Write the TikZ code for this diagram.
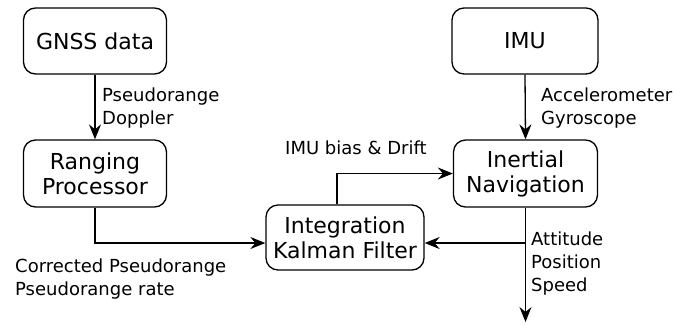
\documentclass[tikz,border=0pt]{standalone}
\usepackage{fontspec}
\setmainfont{DejaVu Sans}
\usetikzlibrary{arrows.meta,calc}
\begin{document}
\begin{tikzpicture}[x=1pt,y=-1pt,
  blk/.style={draw,line width=1.3pt,rounded corners=12pt,align=center,inner sep=0pt,
    font=\fontsize{22}{25}\selectfont},
  lbl/.style={anchor=north west,inner sep=0pt,align=left,font=\fontsize{18}{23}\selectfont},
  conn/.style={line width=1.3pt},
  arr/.style={conn,-{Stealth[length=15pt,width=12pt,inset=5pt]}}]
\useasboundingbox (0,0) rectangle (676,325);
\node[blk,minimum width=143pt,minimum height=66pt] (gnss) at (95,41) {GNSS data};
\node[blk,minimum width=143pt,minimum height=67pt] (rp) at (95,173.5) {Ranging\\Processor};
\node[blk,minimum width=146pt,minimum height=66pt] (imu) at (525,41) {IMU};
\node[blk,minimum width=144pt,minimum height=67pt] (ins) at (525.5,173.5) {Inertial\\Navigation};
\node[blk,minimum width=158pt,minimum height=65pt] (kf) at (345,237.5) {Integration\\Kalman Filter};

\coordinate (kfL) at ([yshift=-5.5pt]kf.west);
\coordinate (kfR) at ([yshift=-5.5pt]kf.east);
\coordinate (kfT) at ([xshift=-8pt]kf.north);
\coordinate (br) at (ins.south |- kfR);
\coordinate (out) at (525.5,322);

\draw[arr] (gnss.south) -- (rp.north);
\draw[arr] (imu.south) -- (ins.north);
\draw[arr] (rp.south) |- (kfL);
\draw[arr] (kfT) |- (ins.west);
\draw[arr] (ins.south) -- (out);
\draw[arr] (br) -- (kfR);

\node[lbl] (l1) at (102,88) {Pseudorange\\Doppler};
\node[lbl] (l2) at (541,88) {Accelerometer\\Gyroscope};
\node[lbl] (l3) at (285,141) {IMU bias \& Drift};
\node[lbl] (l4) at (531,232) {Attitude\\Position\\Speed};
\node[lbl] (l5) at (15,259) {Corrected Pseudorange\\Pseudorange rate};
\end{tikzpicture}
\end{document}
